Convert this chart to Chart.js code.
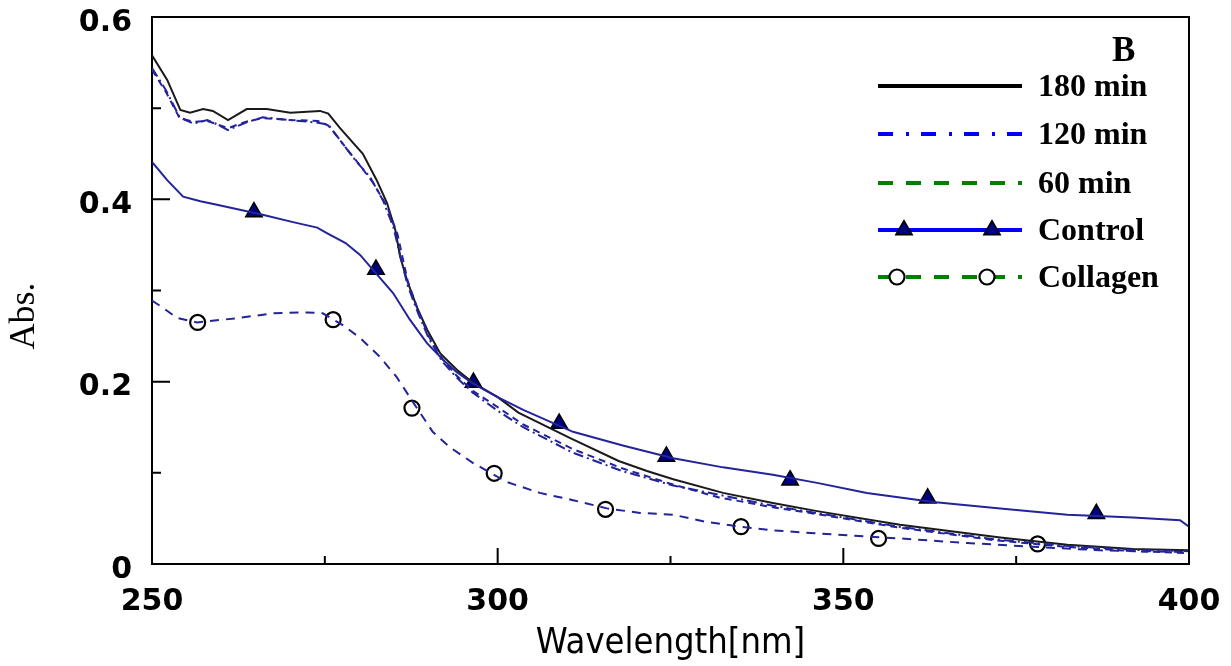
<!DOCTYPE html>
<html>
<head>
<meta charset="utf-8">
<script src="https://cdn.jsdelivr.net/npm/chart.js@4.4.0/dist/chart.umd.min.js"></script>
<style>
  html, body { margin: 0; padding: 0; background: #fff; }
  #wrap { position: relative; width: 1231px; height: 666px; }
</style>
</head>
<body>
<div id="wrap"><canvas id="absChart"></canvas></div>
<script>
// --- data ---
const wl180 = [250, 252.2, 254.1, 255.5, 257.4, 258.8, 261, 263.7, 266.6, 270, 274.3, 275.5, 277.2, 280.5, 282.5, 284, 285.2, 285.9, 286.9, 288.3, 289.8, 291.7, 294.1, 296.4, 300, 303, 310.5, 317.5, 321.6, 325.4, 332.6, 339.8, 346.2, 358.2, 372.7, 382.4, 391.9, 400];
const abs180 = [0.558, 0.531, 0.498, 0.495, 0.499, 0.497, 0.487, 0.499, 0.499, 0.495, 0.497, 0.494, 0.478, 0.450, 0.421, 0.396, 0.366, 0.337, 0.311, 0.282, 0.257, 0.231, 0.213, 0.199, 0.183, 0.166, 0.138, 0.113, 0.102, 0.093, 0.078, 0.067, 0.058, 0.043, 0.029, 0.021, 0.0165, 0.015];

const wl120 = [250, 252, 254, 256, 258, 259.5, 261, 263.5, 266, 270, 274, 275.5, 277.2, 279.6, 281.5, 283.4, 284.9, 286, 287, 288.5, 290, 292, 294, 296.4, 300, 303.7, 310.9, 318, 325.4, 332.6, 339.8, 346, 358, 372, 382, 392, 400];
const abs120 = [0.544, 0.52, 0.49, 0.483, 0.487, 0.482, 0.476, 0.484, 0.49, 0.487, 0.484, 0.482, 0.465, 0.441, 0.425, 0.399, 0.370, 0.335, 0.305, 0.275, 0.248, 0.222, 0.205, 0.188, 0.168, 0.150, 0.122, 0.102, 0.086, 0.075, 0.064, 0.056, 0.041, 0.027, 0.020, 0.0155, 0.014];

const wl60 = [250, 252, 254, 256, 258, 261, 263.5, 266, 270, 274, 275.5, 277.5, 280, 282, 284, 285.5, 287, 288.5, 290, 292, 294, 296.4, 300, 303.7, 310.9, 318, 325, 332, 340, 346, 358, 372, 382, 392, 400];
const abs60 = [0.542, 0.518, 0.489, 0.485, 0.486, 0.478, 0.485, 0.489, 0.487, 0.486, 0.481, 0.462, 0.438, 0.418, 0.392, 0.362, 0.31, 0.278, 0.25, 0.225, 0.207, 0.19, 0.172, 0.153, 0.126, 0.105, 0.088, 0.073, 0.062, 0.055, 0.040, 0.026, 0.019, 0.014, 0.012];

const wlControl = [250, 252.2, 254.5, 257, 259.4, 264.2, 266, 270.4, 273.9, 275.3, 278, 280.1, 282.5, 284.9, 287.3, 289.8, 292.1, 294, 296.4, 300, 303.7, 310.9, 318.1, 325.4, 332.6, 339.8, 346.2, 353.4, 363, 372.7, 382.4, 391.9, 398.7, 400];
const absControl = [0.441, 0.421, 0.403, 0.398, 0.394, 0.386, 0.383, 0.375, 0.369, 0.363, 0.352, 0.339, 0.318, 0.297, 0.268, 0.242, 0.224, 0.211, 0.198, 0.183, 0.169, 0.145, 0.130, 0.116, 0.106, 0.098, 0.089, 0.078, 0.068, 0.061, 0.054, 0.051, 0.048, 0.041];

const wlCollagen = [250, 251.6, 253.6, 256.5, 260.3, 262.7, 267.5, 272.4, 274.7, 277.6, 280.1, 283, 285.4, 287.8, 290.6, 293.1, 296.4, 301.3, 306.1, 310.9, 315.8, 320.6, 325.4, 330.3, 335, 339.8, 345.2, 358.2, 367.9, 377.4, 387.1, 400];
const absCollagen = [0.289, 0.281, 0.270, 0.265, 0.268, 0.270, 0.275, 0.276, 0.275, 0.262, 0.248, 0.227, 0.205, 0.177, 0.145, 0.128, 0.111, 0.090, 0.078, 0.070, 0.061, 0.056, 0.054, 0.046, 0.041, 0.037, 0.034, 0.028, 0.023, 0.019, 0.015, 0.013];

// marker positions (sparse symbols on the curves)
const wlControlMarks = [264.75, 282.4, 296.5, 308.9, 324.4, 342.3, 362.2, 386.6];
const absControlMarks = [0.386, 0.323, 0.199, 0.154, 0.118, 0.092, 0.072, 0.055];
const wlCollagenMarks = [256.6, 276.2, 287.6, 299.5, 315.6, 335.2, 355.1, 378.1];
const absCollagenMarks = [0.265, 0.268, 0.171, 0.0995, 0.060, 0.041, 0.028, 0.022];

const seriesNames = ["180 min", "120 min", "60 min", "Control", "Collagen"];
const panelLetter = "B";

const xTickValues = [250, 300, 350, 400];
const xMinorTicks = [275, 325, 375];
const xMajorTicks = [300, 350];
const yTickValues = [0, 0.2, 0.4, 0.6];
const yMinorTicks = [0.1, 0.3, 0.5];
const yMajorTicks = [0.2, 0.4];

const NAVY = "#23239a";

function pts(xs, ys) {
  return xs.map((x, i) => ({ x: x, y: ys[i] }));
}

// inner tick marks, frame, y title and legend
const decorations = {
  id: "decorations",
  afterDraw(chart) {
    const ctx = chart.ctx;
    const area = chart.chartArea;
    const xs = chart.scales.x;
    const ys = chart.scales.y;
    ctx.save();
    ctx.strokeStyle = "#000";
    ctx.lineWidth = 2;
    // top + right frame
    ctx.beginPath();
    ctx.moveTo(area.left, area.top);
    ctx.lineTo(area.right, area.top);
    ctx.lineTo(area.right, area.bottom);
    ctx.stroke();
    // ticks pointing into the plot
    ctx.beginPath();
    xMajorTicks.forEach(v => { const px = xs.getPixelForValue(v); ctx.moveTo(px, area.bottom); ctx.lineTo(px, area.bottom - 16); });
    xMinorTicks.forEach(v => { const px = xs.getPixelForValue(v); ctx.moveTo(px, area.bottom); ctx.lineTo(px, area.bottom - 8); });
    yMajorTicks.forEach(v => { const py = ys.getPixelForValue(v); ctx.moveTo(area.left, py); ctx.lineTo(area.left + 18, py); });
    yMinorTicks.forEach(v => { const py = ys.getPixelForValue(v); ctx.moveTo(area.left, py); ctx.lineTo(area.left + 9, py); });
    ctx.stroke();

    // y axis title
    ctx.save();
    ctx.translate(25, 316);
    ctx.rotate(-Math.PI / 2);
    ctx.fillStyle = "#000";
    ctx.font = "36px 'Liberation Serif', 'Times New Roman', serif";
    ctx.textAlign = "center";
    ctx.textBaseline = "middle";
    ctx.fillText("Abs.", 0, 0);
    ctx.restore();

    // legend
    const x0 = 878, x1 = 1022, textX = 1038;
    const rows = [86, 134, 183, 230, 277];
    ctx.fillStyle = "#000";
    ctx.textAlign = "left";
    ctx.textBaseline = "alphabetic";
    ctx.font = "bold 35px 'Liberation Serif', 'Times New Roman', serif";
    ctx.fillText(panelLetter, 1112, 61);
    ctx.font = "bold 32px 'Liberation Serif', 'Times New Roman', serif";

    const styles = [
      { color: "#000", dash: [] },
      { color: "#0000ff", dash: [15, 13, 3, 12] },
      { color: "#008000", dash: [15, 13] },
      { color: "#0000ff", dash: [] },
      { color: "#008000", dash: [15, 13] }
    ];
    seriesNames.forEach((name, i) => {
      const y = rows[i];
      ctx.save();
      ctx.strokeStyle = styles[i].color;
      ctx.lineWidth = 4;
      ctx.setLineDash(styles[i].dash);
      ctx.beginPath();
      ctx.moveTo(x0, y);
      ctx.lineTo(x1, y);
      ctx.stroke();
      ctx.restore();
      ctx.fillStyle = "#000";
      ctx.fillText(name, textX, y + 10);
    });
    // legend symbols
    [904, 992].forEach(cx => {
      ctx.beginPath();
      ctx.moveTo(cx, rows[3] - 9.5);
      ctx.lineTo(cx + 8.2, rows[3] + 4.8);
      ctx.lineTo(cx - 8.2, rows[3] + 4.8);
      ctx.closePath();
      ctx.fillStyle = "#000080";
      ctx.fill();
      ctx.lineWidth = 1.5;
      ctx.strokeStyle = "#000";
      ctx.stroke();
    });
    [897, 987].forEach(cx => {
      ctx.beginPath();
      ctx.arc(cx, rows[4], 7.5, 0, Math.PI * 2);
      ctx.fillStyle = "#fff";
      ctx.fill();
      ctx.lineWidth = 2.2;
      ctx.strokeStyle = "#000";
      ctx.stroke();
    });
    ctx.restore();
  }
};

const lineDefaults = { pointRadius: 0, borderWidth: 2, fill: false, tension: 0 };

new Chart(document.getElementById("absChart"), {
  type: "line",
  data: {
    datasets: [
      Object.assign({ label: seriesNames[4], data: pts(wlCollagen, absCollagen), borderColor: NAVY, borderDash: [9, 7] }, lineDefaults),
      Object.assign({ label: seriesNames[3], data: pts(wlControl, absControl), borderColor: NAVY }, lineDefaults),
      Object.assign({ label: seriesNames[2], data: pts(wl60, abs60), borderColor: NAVY, borderDash: [7, 5] }, lineDefaults),
      Object.assign({ label: seriesNames[1], data: pts(wl120, abs120), borderColor: NAVY, borderDash: [10, 4, 2, 4] }, lineDefaults),
      Object.assign({ label: seriesNames[0], data: pts(wl180, abs180), borderColor: "#1a1a1a", borderWidth: 2.2 }, lineDefaults),
      {
        label: "Control marks", data: pts(wlControlMarks, absControlMarks), showLine: false,
        pointStyle: "triangle", pointRadius: 9.5, pointBackgroundColor: "#000080",
        pointBorderColor: "#000", pointBorderWidth: 1.5
      },
      {
        label: "Collagen marks", data: pts(wlCollagenMarks, absCollagenMarks), showLine: false,
        pointStyle: "circle", pointRadius: 7.5, pointBackgroundColor: "rgba(0,0,0,0)",
        pointBorderColor: "#000", pointBorderWidth: 2.2
      }
    ]
  },
  options: {
    responsive: true,
    maintainAspectRatio: false,
    animation: false,
    events: [],
    layout: { padding: { left: 0, right: 42, top: 17, bottom: 0 } },
    plugins: { legend: { display: false }, tooltip: { enabled: false } },
    scales: {
      x: {
        type: "linear",
        min: 250,
        max: 400,
        afterBuildTicks: s => { s.ticks = xTickValues.map(v => ({ value: v })); },
        afterFit: s => { s.height = 102; s.paddingLeft = 0; s.paddingRight = 0; },
        grid: { drawOnChartArea: false, drawTicks: false },
        border: { display: true, color: "#000", width: 2 },
        ticks: {
          color: "#000",
          padding: 20,
          maxRotation: 0,
          autoSkip: false,
          font: { family: "'DejaVu Sans', sans-serif", weight: "bold", size: 30 }
        },
        title: {
          display: true,
          text: "Wavelength[nm]",
          color: "#000",
          padding: { top: 0, bottom: 1 },
          font: { family: "'Liberation Sans Narrow', 'DejaVu Sans Condensed', sans-serif", size: 36 }
        }
      },
      y: {
        min: 0,
        max: 0.6,
        afterBuildTicks: s => { s.ticks = yTickValues.map(v => ({ value: v })); },
        afterFit: s => { s.width = 152; s.paddingTop = 0; s.paddingBottom = 0; },
        grid: { drawOnChartArea: false, drawTicks: false },
        border: { display: true, color: "#000", width: 2 },
        ticks: {
          color: "#000",
          padding: 20,
          labelOffset: 6,
          font: { family: "'DejaVu Sans', sans-serif", weight: "bold", size: 30 },
          callback: v => (v === 0 ? "0" : v.toFixed(1))
        }
      }
    }
  },
  plugins: [decorations]
});
</script>
</body>
</html>
